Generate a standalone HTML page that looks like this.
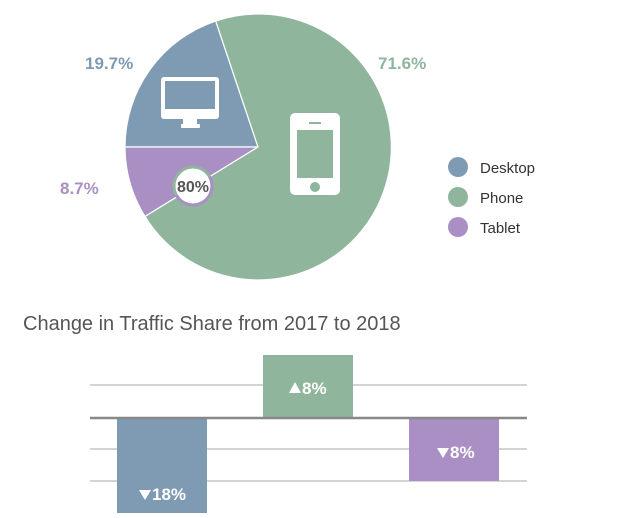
<!DOCTYPE html>
<html><head><style>
body{margin:0;background:#fff;width:620px;height:513px;overflow:hidden;font-family:"Liberation Sans",sans-serif;}
.b{font-weight:700;font-family:"Liberation Sans",sans-serif;}
</style></head><body>
<svg width="620" height="513" viewBox="0 0 620 513" xmlns="http://www.w3.org/2000/svg">
<path d="M258 147 L125 147 A133 133 0 0 1 215.7 21 Z" fill="#7f9bb4" stroke="#fff" stroke-width="1.2"/>
<path d="M258 147 L145 216.5 A133 133 0 0 1 125 147 Z" fill="#aa8fc4" stroke="#fff" stroke-width="1.2"/>
<path d="M258 147 L215.7 21 A133 133 0 1 1 145 216.5 Z" fill="#8fb59d" stroke="#fff" stroke-width="1.2"/>
<rect x="161" y="77" width="58" height="42" rx="3" fill="#fff"/>
<rect x="165" y="81" width="50" height="28" fill="#7f9bb4"/>
<rect x="183" y="119" width="14" height="6" fill="#fff"/>
<rect x="181" y="124" width="19" height="4" rx="1" fill="#fff"/>
<rect x="290" y="113" width="50" height="82" rx="5" fill="#fff"/>
<rect x="297" y="130" width="36" height="48" fill="#8fb59d"/>
<rect x="309" y="122" width="12" height="2" fill="#8fb59d"/>
<circle cx="315" cy="187" r="5" fill="#8fb59d"/>
<circle cx="193" cy="186" r="19" fill="#fff" stroke="#8fb59d" stroke-width="3"/>
<path d="M174 186 A19 19 0 0 0 212 186" fill="none" stroke="#aa8fc4" stroke-width="3" transform="rotate(-30 193 186)"/>
<text class="b" x="193" y="192" text-anchor="middle" font-size="16" fill="#555">80%</text>
<text class="b" x="85" y="69" font-size="17" fill="#7f9bb4">19.7%</text>
<text class="b" x="378" y="69" font-size="17" fill="#8fb59d">71.6%</text>
<text class="b" x="60" y="194" font-size="17" fill="#aa8fc4">8.7%</text>
<circle cx="458" cy="167" r="10" fill="#7f9bb4"/>
<circle cx="458" cy="197" r="10" fill="#8fb59d"/>
<circle cx="458" cy="227" r="10" fill="#aa8fc4"/>
<g font-size="15" fill="#333">
<text x="480" y="173">Desktop</text>
<text x="480" y="203">Phone</text>
<text x="480" y="233">Tablet</text>
</g>
<text x="23" y="330" font-size="20" fill="#555">Change in Traffic Share from 2017 to 2018</text>
<g stroke="#aaa" stroke-width="1">
<line x1="90" y1="385" x2="527" y2="385"/>
<line x1="90" y1="449" x2="527" y2="449"/>
<line x1="90" y1="481" x2="527" y2="481"/>
</g>
<rect x="263" y="355" width="90" height="63" fill="#8fb59d"/>
<rect x="117" y="419" width="90" height="94" fill="#7f9bb4"/>
<rect x="409" y="419" width="90" height="62" fill="#aa8fc4"/>
<line x1="90" y1="418" x2="527" y2="418" stroke="#888" stroke-width="2.5"/>
<g fill="#fff">
<path d="M289 393 L295 382 L301 393 Z"/>
<path d="M139 490 L151 490 L145 500 Z"/>
<path d="M437 448 L449 448 L443 458 Z"/>
</g>
<g class="b" font-size="17" fill="#fff">
<text x="302" y="394">8%</text>
<text x="152" y="500">18%</text>
<text x="450" y="458">8%</text>
</g>
</svg>
</body></html>
